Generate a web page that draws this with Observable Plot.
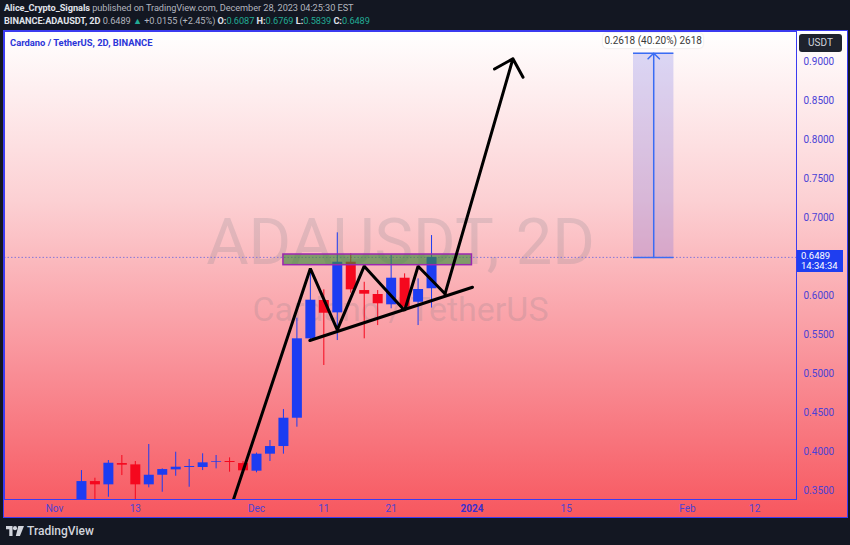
<!DOCTYPE html>
<html><head><meta charset="utf-8">
<script src="https://cdn.jsdelivr.net/npm/d3@7"></script>
<script src="https://cdn.jsdelivr.net/npm/@observablehq/plot@0.6"></script>
<style>
html,body{margin:0;padding:0}
body{background:#131722;width:850px;height:545px;overflow:hidden;position:relative;font-family:Roboto,"Noto Sans",sans-serif}
.hdr{position:absolute;left:4px;font-size:9.2px;color:#b2b5be;white-space:nowrap;line-height:13px;letter-spacing:-0.05px}
.hdr b{color:#e0e3eb;font-weight:700}
.g{color:#22ab94}
#chart{position:absolute;left:3px;top:30px;width:843px;height:486px;border:1px solid #3b3bf0;
  background:linear-gradient(to bottom,#ffffff 0%,#fcd0d3 35%,#f98e96 70%,#f7575f 100%);overflow:hidden}
#title{position:absolute;left:6px;top:6px;font-size:9.4px;font-weight:700;color:#2b35d8;white-space:nowrap}
#usdt{position:absolute;left:795px;top:3px;width:43px;height:18px;background:#1e222d;border-radius:3px;color:#d1d4dc;font-size:10px;line-height:18px;text-align:center}
#pricebox{position:absolute;left:793px;width:46px;height:22px;background:#1f3ef0;color:#fff;font-size:9.5px;line-height:10.5px;padding-left:4px;box-sizing:border-box;padding-top:1px}
#measure{position:absolute;height:15px;width:100px;background:#fff;border-radius:4px;color:#3a3a3a;font-size:10px;line-height:15px;text-align:center;box-shadow:0 0 2px rgba(0,0,0,0.15)}
#tv{position:absolute;left:6px;top:524px;color:#d1d4dc;font-size:12px;font-weight:500;font-family:Roboto,sans-serif;display:flex;align-items:center;gap:3px}
</style></head><body>
<div class="hdr" style="top:1px"><b>Alice_Crypto_Signals</b> published on TradingView.com, December 28, 2023 04:25:30 EST</div>
<div class="hdr" style="top:14px"><b>BINANCE:ADAUSDT, 2D</b> 0.6489 <span class="g">▲</span> +0.0155 (+2.45%) <b>O:</b><span class="g">0.6087</span> <b>H:</b><span class="g">0.6769</span> <b>L:</b><span class="g">0.5839</span> <b>C:</b><span class="g">0.6489</span></div>
<div id="chart"></div>
<div id="tv"><svg width="18" height="10" viewBox="0 0 22 12"><path d="M0 0h8v12h-4V4H0z" fill="#d1d4dc"/><circle cx="11" cy="2.5" r="2.5" fill="#d1d4dc"/><path d="M15 0h7l-5 12h-5z" fill="#d1d4dc"/></svg>TradingView</div>
<script>
// ---- data ----
const candleDates = ["2023-11-05","2023-11-07","2023-11-09","2023-11-11","2023-11-13","2023-11-15","2023-11-17","2023-11-19","2023-11-21","2023-11-23","2023-11-25","2023-11-27","2023-11-29","2023-12-01","2023-12-03","2023-12-05","2023-12-07","2023-12-09","2023-12-11","2023-12-13","2023-12-15","2023-12-17","2023-12-19","2023-12-21","2023-12-23","2023-12-25","2023-12-27"];
const openVals  = [0.3300,0.3615,0.3573,0.3846,0.3829,0.3573,0.3696,0.3765,0.3795,0.3795,0.3863,0.3872,0.3846,0.3748,0.3966,0.4064,0.4427,0.5445,0.5936,0.5778,0.6427,0.6064,0.6013,0.5881,0.6222,0.5914,0.6087];
const highVals  = [0.3756,0.3658,0.3885,0.3949,0.3872,0.4090,0.3778,0.3991,0.3898,0.3971,0.3949,0.3919,0.3870,0.3980,0.4141,0.4539,0.5709,0.6346,0.6073,0.6804,0.6535,0.6170,0.6064,0.6513,0.6278,0.6214,0.6769];
const lowVals   = [0.3250,0.3340,0.3414,0.3692,0.3380,0.3535,0.3478,0.3683,0.3542,0.3756,0.3778,0.3735,0.3740,0.3727,0.3872,0.3966,0.4312,0.5420,0.5103,0.5423,0.6030,0.5445,0.5615,0.5830,0.5808,0.5615,0.5839];
const closeVals = [0.3615,0.3573,0.3850,0.3825,0.3573,0.3696,0.3769,0.3799,0.3808,0.3855,0.3872,0.3859,0.3753,0.3966,0.4064,0.4427,0.5445,0.5940,0.5773,0.6427,0.6073,0.6017,0.5894,0.6222,0.5850,0.6077,0.6489];

// 0.6500 is hidden behind the last-price label in the reference
const yTicks = [0.35,0.40,0.45,0.50,0.55,0.60,0.70,0.75,0.80,0.85,0.90];
const xTickDates  = ["2023-11-01","2023-11-13","2023-12-01","2023-12-11","2023-12-21","2024-01-02","2024-01-16","2024-02-03","2024-02-13"];
const xTickLabels = ["Nov","13","Dec","11","21","2024","15","Feb","12"];
const xTickBold   = [false,false,false,false,false,true,false,false,false];

const patternDates  = ["2023-11-27T14:00Z","2023-12-09","2023-12-13","2023-12-17","2023-12-23","2023-12-25","2023-12-29"];
const patternPrices = [0.3385,0.6346,0.5560,0.6376,0.5808,0.6376,0.6022];
const arrowTipDate = "2024-01-08T02:00Z", arrowTipPrice = 0.9035;
const trendDates  = ["2023-12-08T22:00Z","2024-01-02T02:00Z"];
const trendPrices = [0.5423,0.6106];
const zoneDates  = ["2023-12-05","2024-01-02"];
const zonePrices = [0.6389,0.6526];
const lastPrice = 0.6489;
const lastTime = "14:34:34";
const measureDates = ["2024-01-26","2024-02-01"];
const measureMidDate = "2024-01-29";
const measureTop = 0.9107;
const measureLabel = "0.2618 (40.20%) 2618";
const xDomain = ["2023-10-24T13:40Z","2024-02-19T05:00Z"];
const yDomain = [0.3385,0.9385];

// ---- build ----
const BLUE = "#1c3cf2", RED = "#f5081e", AXIS = "#4a42d6";
const candles = candleDates.map((d,i)=>({date:new Date(d),open:openVals[i],high:highVals[i],low:lowVals[i],close:closeVals[i]}));
const colorOf = d => d.close >= d.open ? BLUE : RED;
const pattern = patternDates.map((d,i)=>({date:new Date(d),price:patternPrices[i]}));
const lastPt = pattern[pattern.length-1];
const arrowData = [{x1:lastPt.date,y1:lastPt.price,x2:new Date(arrowTipDate),y2:arrowTipPrice}];
const trend = trendDates.map((d,i)=>({date:new Date(d),price:trendPrices[i]}));
const zone = [{x1:new Date(zoneDates[0]),x2:new Date(zoneDates[1]),y1:zonePrices[0],y2:zonePrices[1]}];
const meas = [{x1:new Date(measureDates[0]),x2:new Date(measureDates[1]),y1:lastPrice,y2:measureTop,xm:new Date(measureMidDate)}];
const ticks = xTickDates.map((d,i)=>({date:new Date(d),label:xTickLabels[i],bold:xTickBold[i]}));
const labelOf = new Map(ticks.map(t=>[+t.date,t.label]));

const chart = Plot.plot({
  width: 843, height: 486,
  marginLeft: 0, marginRight: 51, marginTop: 0, marginBottom: 18,
  style: {background:"transparent", color: AXIS, fontFamily:"Roboto, sans-serif", fontSize:"10px", overflow:"visible"},
  x: {type:"utc", domain: xDomain.map(d=>new Date(d))},
  y: {domain: yDomain},
  color: {type:"identity"},
  marks: [
    Plot.text(["ADAUSDT, 2D"], {text:d=>d, frameAnchor:"middle", dy:-22, fontSize:65, fill:"#787b86", fillOpacity:0.2, fontFamily:"Roboto"}),
    Plot.text(["Cardano / TetherUS"], {text:d=>d, frameAnchor:"middle", dy:45, fontSize:34, fill:"#787b86", fillOpacity:0.2, fontFamily:"Roboto"}),
    Plot.ruleY([lastPrice], {stroke:"#8577d8", strokeDasharray:"1.5,2", strokeWidth:1}),
    Plot.rect(meas, {x1:"x1", x2:"x2", y1:"y1", y2:"y2", fill:"#6464e6", fillOpacity:0.23}),
    Plot.ruleY(meas, {y:"y1", x1:"x1", x2:"x2", stroke:"#3a6cf4", strokeWidth:1.5}),
    Plot.ruleY(meas, {y:"y2", x1:"x1", x2:"x2", stroke:"#3a6cf4", strokeWidth:1.5}),
    Plot.arrow(meas, {x1:"xm", x2:"xm", y1:"y1", y2:"y2", stroke:"#3a6cf4", strokeWidth:1.5, headAngle:90, headLength:8}),
    Plot.ruleX(candles, {x:"date", y1:"low", y2:"high", stroke:colorOf, strokeWidth:1, clip:true}),
    Plot.ruleX(candles, {x:"date", y1:"open", y2:"close", stroke:colorOf, strokeWidth:10, clip:true}),
    Plot.rect(zone, {x1:"x1", x2:"x2", y1:"y1", y2:"y2", fill:"#3d8a3a", fillOpacity:0.65, stroke:"#9c27b0", strokeWidth:1.5}),
    Plot.line(pattern, {x:"date", y:"price", stroke:"#000", strokeWidth:3, strokeLinejoin:"miter", clip:true}),
    Plot.arrow(arrowData, {x1:"x1", y1:"y1", x2:"x2", y2:"y2", stroke:"#000", strokeWidth:3, headAngle:90, headLength:10.5}),
    Plot.line(trend, {x:"date", y:"price", stroke:"#000", strokeWidth:3}),
    Plot.frame({stroke:"#3b3bf0", strokeWidth:1}),
    Plot.axisY(yTicks, {anchor:"right", tickSize:0, tickPadding:7, tickFormat:d3.format(".4f"), fill:AXIS, fontSize:10}),
    Plot.axisX(ticks.filter(t=>!t.bold).map(t=>t.date), {anchor:"bottom", tickSize:0, tickPadding:5, tickFormat:d=>labelOf.get(+d), fill:AXIS, fontSize:10}),
    Plot.axisX(ticks.filter(t=>t.bold).map(t=>t.date), {anchor:"bottom", tickSize:0, tickPadding:5, tickFormat:d=>labelOf.get(+d), fill:"#3a30d0", fontSize:10, fontWeight:"bold"})
  ]
});
const host = document.getElementById("chart");
host.appendChild(chart);
const ys = chart.scale("y"), xs = chart.scale("x");

const t = document.createElement("div"); t.id="title"; t.textContent="Cardano / TetherUS, 2D, BINANCE"; host.appendChild(t);
const u = document.createElement("div"); u.id="usdt"; u.textContent="USDT"; host.appendChild(u);
const pb = document.createElement("div"); pb.id="pricebox";
pb.innerHTML = d3.format(".4f")(lastPrice) + "<br>" + lastTime;
pb.style.top = (ys.apply(lastPrice) - 7) + "px"; host.appendChild(pb);
const m = document.createElement("div"); m.id="measure";
m.textContent = measureLabel;
m.style.left = (xs.apply(new Date(measureMidDate)) - 50) + "px";
m.style.top = (ys.apply(measureTop) - 20) + "px";
host.appendChild(m);
</script>
</body></html>
